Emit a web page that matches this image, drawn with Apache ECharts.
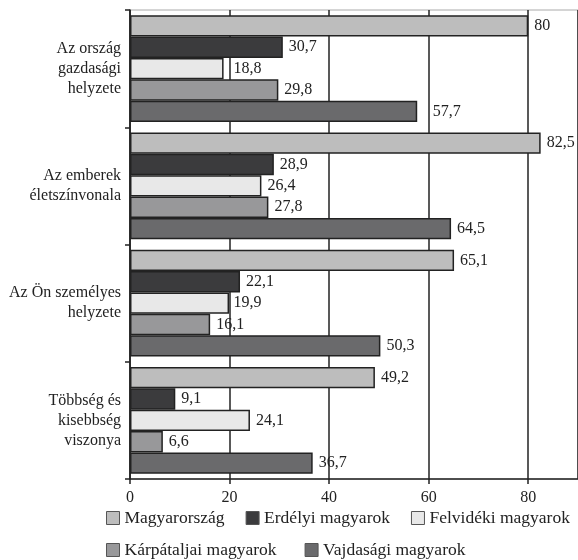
<!DOCTYPE html>
<html><head><meta charset="utf-8">
<script src="https://cdn.jsdelivr.net/npm/echarts@6/dist/echarts.min.js"></script>
<style>html,body{margin:0;padding:0;background:#fff}#c{width:578px;height:560px}</style>
</head><body><div id="c"></div>
<script>
const categories = ['Az ország\ngazdasági\nhelyzete', 'Az emberek\néletszínvonala', 'Az Ön személyes\nhelyzete', 'Többség és\nkisebbség\nviszonya'];
const seriesNames = ['Magyarország', 'Erdélyi magyarok', 'Felvidéki magyarok', 'Kárpátaljai magyarok', 'Vajdasági magyarok'];
const magyarorszag = [80, 82.5, 65.1, 49.2];
const erdelyi = [30.7, 28.9, 22.1, 9.1];
const felvideki = [18.8, 26.4, 19.9, 24.1];
const karpataljai = [29.8, 27.8, 16.1, 6.6];
const vajdasagi = [57.7, 64.5, 50.3, 36.7];
const xTicks = { min: 0, max: 90, interval: 20 };
const colors = ['#bdbdbd', '#3b3b3d', '#e8e8e8', '#98989a', '#6a6a6c'];
const values = [magyarorszag, erdelyi, felvideki, karpataljai, vajdasagi];

const font = '"Liberation Serif", "DejaVu Serif", serif';
const chart = echarts.init(document.getElementById('c'));
const baseDist = 6;
function buildSeries(toPx) {
  return seriesNames.map((n, i) => ({
    name: n, type: 'bar',
    data: values[i].map(v => {
      let d = baseDist;
      if (toPx) {
        const next = Math.ceil(v / xTicks.interval) * xTicks.interval;
        if (next > v) {
          const gap = toPx(next) - toPx(v);
          if (gap < 14) d = gap + 4;
        }
      }
      return { value: v, label: { distance: d } };
    }),
    barGap: '0%', barCategoryGap: '9%',
    itemStyle: { color: colors[i], borderColor: '#222', borderWidth: 1.5 },
    label: { show: true, position: 'right', fontSize: 16, color: '#222', fontFamily: font,
      formatter: p => String(p.value).replace('.', ',') }
  }));
}
const legendText = { fontFamily: font, fontSize: 17.5, color: '#222' };
chart.setOption({
  animation: false,
  textStyle: { fontFamily: font, color: '#222' },
  grid: { left: 130, right: 0, top: 10, bottom: 81, show: true, borderColor: '#aaa', borderWidth: 1 },
  legend: [
    { data: seriesNames.slice(0, 3), left: 101, top: 504, icon: 'rect', itemWidth: 13, itemHeight: 13, itemGap: 21,
      itemStyle: { borderColor: '#555', borderWidth: 1 }, textStyle: legendText },
    { data: seriesNames.slice(3), left: 101, top: 536, icon: 'rect', itemWidth: 13, itemHeight: 13, itemGap: 28,
      itemStyle: { borderColor: '#555', borderWidth: 1 }, textStyle: legendText }
  ],
  xAxis: {
    type: 'value', min: xTicks.min, max: xTicks.max, interval: xTicks.interval,
    axisLine: { show: true, lineStyle: { color: '#222', width: 1.5 } },
    axisTick: { show: true, length: 5, lineStyle: { color: '#222', width: 1.5 } },
    splitLine: { show: true, lineStyle: { color: '#222', width: 1.5 } },
    axisLabel: { showMaxLabel: false, fontSize: 16, color: '#222', fontFamily: font, margin: 11 }
  },
  yAxis: {
    type: 'category', data: categories, inverse: true,
    axisLine: { show: true, lineStyle: { color: '#222', width: 1.5 } },
    axisTick: { show: true, length: 5, lineStyle: { color: '#222', width: 1.5 } },
    axisLabel: { fontSize: 16, color: '#222', fontFamily: font, margin: 9, lineHeight: 20, align: 'right', padding: [5, 0, 0, 0] }
  },
  series: buildSeries(null)
});
const toPx = v => chart.convertToPixel({ xAxisIndex: 0 }, v);
chart.setOption({ series: buildSeries(toPx) });
</script></body></html>
